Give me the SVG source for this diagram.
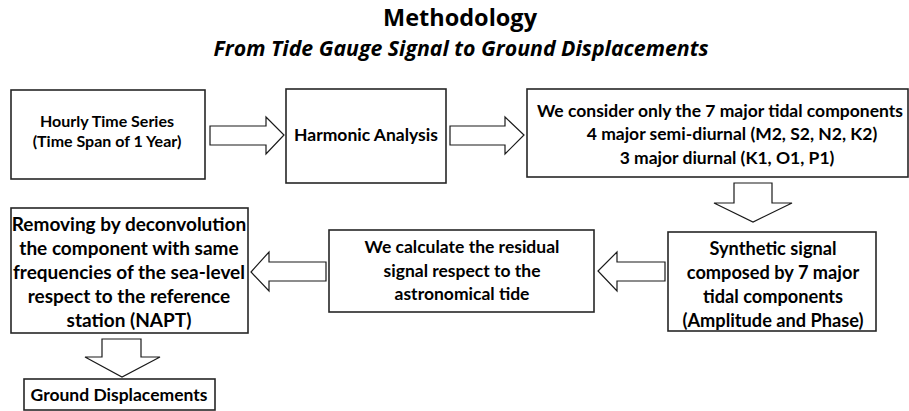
<svg xmlns="http://www.w3.org/2000/svg" width="909" height="411" viewBox="0 0 909 411">
<style>
.box{fill:#fff;stroke:#262626;stroke-width:1.6}
.arr{fill:#fff;stroke:#1a1a1a;stroke-width:1.2;stroke-linejoin:miter}
.t{font-family:Lato,"Open Sans","Liberation Sans",sans-serif;font-weight:bold;font-size:16px;fill:#000;text-anchor:middle}
.tl{font-size:17.5px}
.ts{font-size:18.2px}
.tr{font-size:19px}
.title{font-family:"Open Sans","Noto Sans",sans-serif;font-weight:bold;font-size:23.5px;fill:#000;text-anchor:middle}
.sub{font-family:"Open Sans","Noto Sans",sans-serif;font-weight:bold;font-style:italic;font-size:21.3px;fill:#000;text-anchor:middle}
</style>
<rect width="909" height="411" fill="#fff"/>
<text class="title" x="460" y="26">Methodology</text>
<text class="sub" x="461" y="56">From Tide Gauge Signal to Ground Displacements</text>

<g id="connectors">
<polygon class="arr" points="210,126 266,126 266,117 284,135 266,154 266,145 210,145"/>
<polygon class="arr" points="450,126 505,126 505,117 524,135 505,154 505,145 450,145"/>
<polygon class="arr" points="734,183 772,183 772,203 792,203 753,222 714,203 734,203"/>
<polygon class="arr" points="665,262 617,262 617,252 598,271 617,291 617,281 665,281"/>
<polygon class="arr" points="326,262 269,262 269,252 251,272 269,291 269,281 326,281"/>
<polygon class="arr" points="102,339 141,339 141,357 160,357 122,377 85,357 102,357"/>
</g>

<g id="hourly">
<rect class="box" x="11" y="90" width="194" height="89"/>
<text class="t" x="107" y="127">Hourly Time Series</text>
<text class="t" x="107" y="147">(Time Span of 1 Year)</text>
</g>
<g id="harmonic">
<rect class="box" x="286" y="89" width="160" height="94"/>
<text class="t tl" x="366" y="141">Harmonic Analysis</text>
</g>
<g id="components">
<rect class="box" x="527" y="89" width="381" height="88"/>
<text class="t tl" x="720" y="117">We consider only the 7 major tidal components</text>
<text class="t tl" x="732" y="140">4 major semi-diurnal (M2, S2, N2, K2)</text>
<text class="t tl" x="727" y="164">3 major diurnal (K1, O1, P1)</text>
</g>
<g id="synthetic">
<rect class="box" x="668" y="232" width="208" height="99"/>
<text class="t ts" x="773" y="255">Synthetic signal</text>
<text class="t ts" x="773" y="279">composed by 7 major</text>
<text class="t ts" x="773" y="303">tidal components</text>
<text class="t ts" x="773" y="327">(Amplitude and Phase)</text>
</g>
<g id="residual">
<rect class="box" x="329" y="230" width="265" height="82"/>
<text class="t tl" x="462" y="253">We calculate the residual</text>
<text class="t tl" x="462" y="277">signal respect to the</text>
<text class="t tl" x="462" y="300">astronomical tide</text>
</g>
<g id="removing">
<rect class="box" x="11" y="208" width="237" height="125"/>
<text class="t tr" x="129" y="231">Removing by deconvolution</text>
<text class="t tr" x="129" y="255">the component with same</text>
<text class="t tr" x="129" y="279">frequencies of the sea-level</text>
<text class="t tr" x="129" y="303">respect to the reference</text>
<text class="t tr" x="129" y="327">station (NAPT)</text>
</g>
<g id="ground">
<rect class="box" x="24" y="379" width="191" height="31"/>
<text class="t tl" x="119" y="401">Ground Displacements</text>
</g>
</svg>
